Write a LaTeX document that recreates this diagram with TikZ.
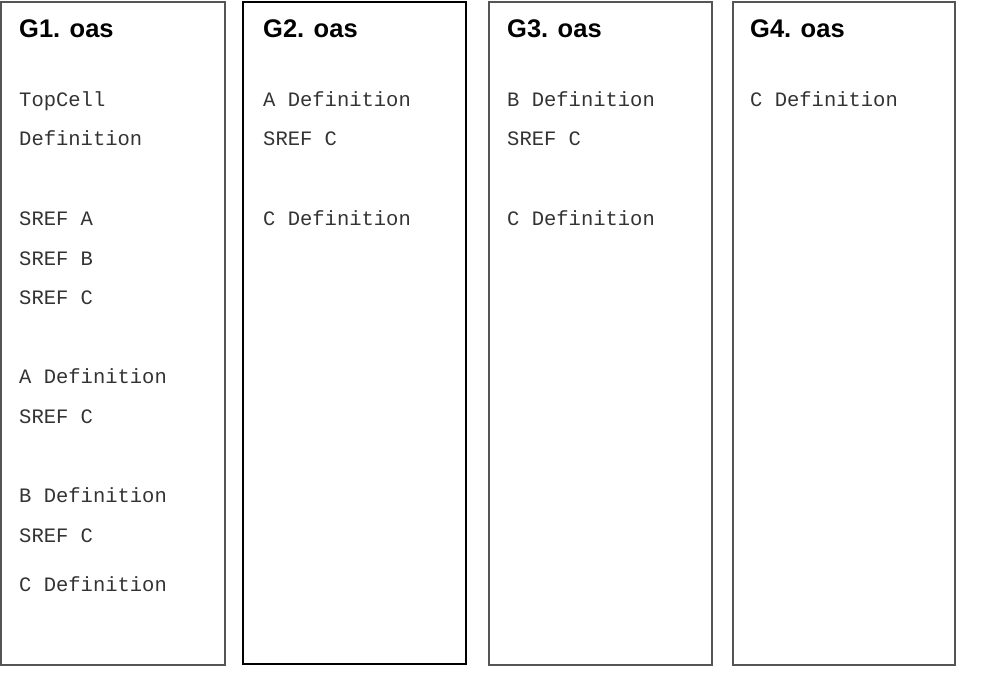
\documentclass[tikz,border=0pt]{standalone}
\usepackage{fontspec}
\usepackage{xcolor}
\usepackage{tikz}
\newfontfamily\headfont{Liberation Sans}
\newfontfamily\codefont{Liberation Mono}
\definecolor{frame}{HTML}{555555}
\definecolor{codeink}{HTML}{333333}

\begin{document}
\begin{tikzpicture}[x=1pt,y=-1pt,
  gdsbox/.style={draw=frame,line width=1.2pt},
  title/.style={anchor=base west,inner sep=0pt,font=\headfont\bfseries\fontsize{25.5}{30}\selectfont},
  rec/.style={anchor=base west,inner sep=0pt,text=codeink,font=\codefont\fontsize{20.5}{24}\selectfont}]
\useasboundingbox (0,0) rectangle (994,686);
% the four layout files
\draw[gdsbox] (1,2) rectangle (225,665);
\draw[gdsbox,draw=black] (243,2) rectangle (466,664);
\draw[gdsbox] (489,2) rectangle (712,665);
\draw[gdsbox] (733,2) rectangle (955,665);
\node[title] (ga) at (19,37) {G1. oas};
\node[title] (gb) at (263,37) {G2. oas};
\node[title] (gc) at (507,37) {G3. oas};
\node[title] (gd) at (750,37) {G4. oas};
% G1
\node[rec] (a1) at (19,106) {TopCell};
\node[rec] (a2) at (19,145) {Definition};
\node[rec] (a3) at (19,225) {SREF A};
\node[rec] (a4) at (19,265) {SREF B};
\node[rec] (a5) at (19,304) {SREF C};
\node[rec] (a6) at (19,383) {A Definition};
\node[rec] (a7) at (19,423) {SREF C};
\node[rec] (a8) at (19,502) {B Definition};
\node[rec] (a9) at (19,542) {SREF C};
\node[rec] (a10) at (19,591) {C Definition};
% G2
\node[rec] (b1) at (263,106) {A Definition};
\node[rec] (b2) at (263,145) {SREF C};
\node[rec] (b3) at (263,225) {C Definition};
% G3
\node[rec] (c1) at (507,106) {B Definition};
\node[rec] (c2) at (507,145) {SREF C};
\node[rec] (c3) at (507,225) {C Definition};
% G4
\node[rec] (d1) at (750,106) {C Definition};
\end{tikzpicture}
\end{document}
